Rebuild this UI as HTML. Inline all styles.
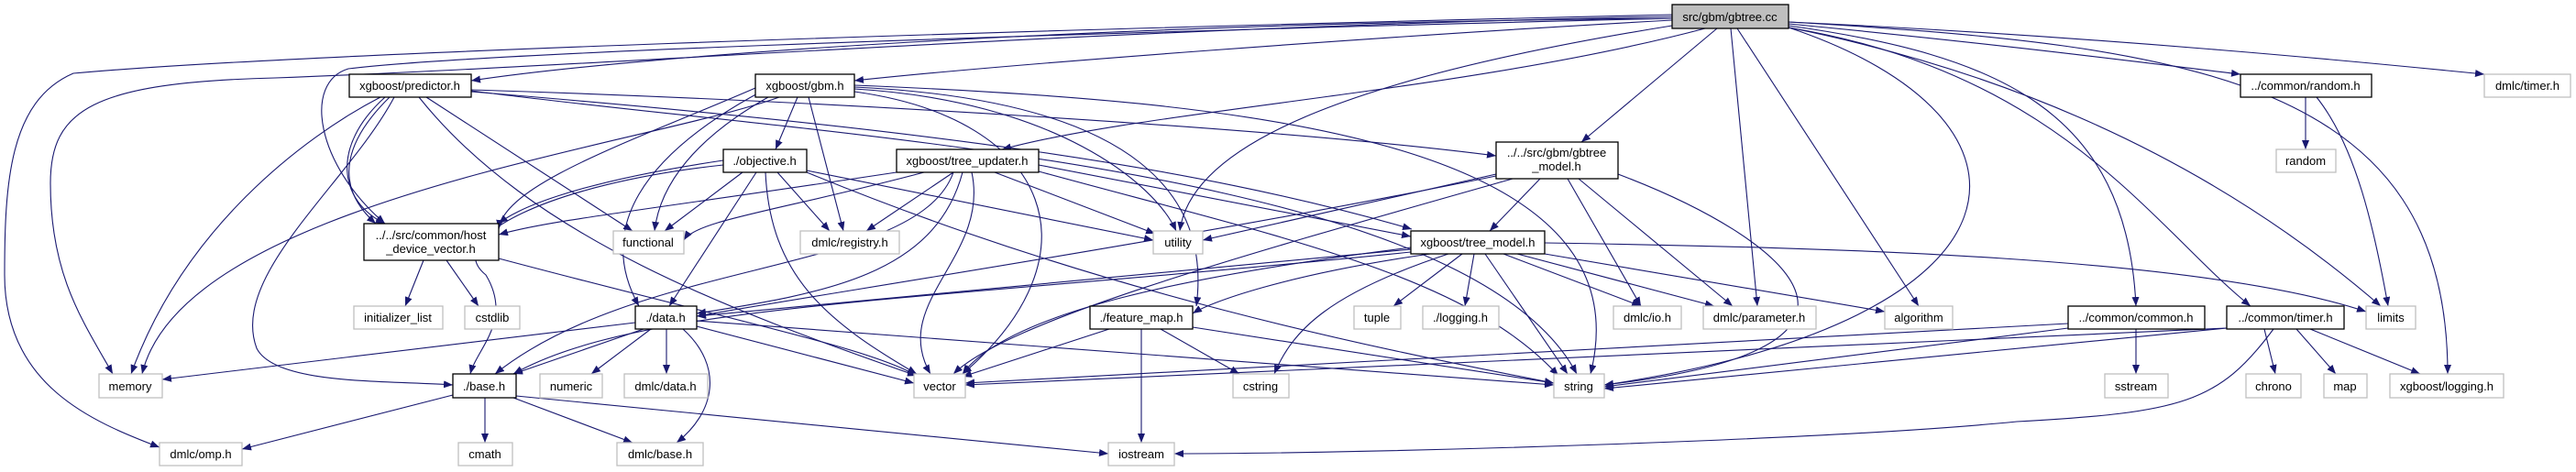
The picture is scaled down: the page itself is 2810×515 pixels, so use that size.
<!DOCTYPE html>
<html><head><meta charset="utf-8"><style>
html,body{margin:0;padding:0;background:#fff;}
svg{display:block;}
.e{fill:none;stroke:#191970;stroke-width:1.1;marker-end:url(#a);}
.n{fill:#fff;stroke:#000;stroke-width:1.3;}
.g{fill:#fff;stroke:#bfbfbf;stroke-width:1.3;}
text{font-family:"Liberation Sans",sans-serif;font-size:13px;fill:#000;text-anchor:middle;}
</style></head><body>
<svg width="2810" height="515" viewBox="0 0 2810 515" xmlns="http://www.w3.org/2000/svg">
<defs><marker id="a" markerWidth="10" markerHeight="8" refX="10" refY="4" orient="auto" markerUnits="userSpaceOnUse"><path d="M0,0 L10,4 L0,8z" fill="#191970"/></marker></defs>
<g>
<!-- gbtree.cc edges -->
<path class="e" d="M1824,20 C1200,25 700,60 514,88"/>
<path class="e" d="M1824,22 C1500,40 1100,70 932,88"/>
<path class="e" d="M1860,31 C1600,100 1250,120 1093,163"/>
<path class="e" d="M1873,31 L1725,155"/>
<path class="e" d="M1888,31 L1917,334"/>
<path class="e" d="M1895,31 L2093,334"/>
<path class="e" d="M1951,26 C2200,50 2350,70 2444,81"/>
<path class="e" d="M1951,24 C2300,40 2600,70 2710,81"/>
<path class="e" d="M1951,28 C2180,60 2320,120 2330,334"/>
<path class="e" d="M1951,30 C2250,80 2350,250 2455,334"/>
<path class="e" d="M1951,30 C2300,100 2500,250 2597,334"/>
<path class="e" d="M1951,24 C2400,50 2670,90 2670,408"/>
<path class="e" d="M1951,30 C2250,130 2230,350 1750,420"/>
<path class="e" d="M1824,28 C1500,80 1300,150 1287,252"/>
<path class="e" d="M1824,18 C1200,30 700,70 300,85 C100,90 55,120 55,200 C55,300 90,350 123,408"/>
<path class="e" d="M1824,16 C1000,35 300,60 80,80 C10,110 5,200 5,300 C5,420 100,460 174,488"/>
<path class="e" d="M1824,20 C1000,40 500,60 380,75 C330,90 345,180 420,244"/>
<!-- predictor -->
<path class="e" d="M415,106 C330,150 200,250 143,408"/>
<path class="e" d="M425,106 C380,150 360,200 410,244"/>
<path class="e" d="M420,106 C360,160 370,220 420,244"/>
<path class="e" d="M465,106 L690,252"/>
<path class="e" d="M457,106 C580,260 800,340 1000,410"/>
<path class="e" d="M430,106 C380,200 250,300 280,380 C300,420 420,415 494,420"/>
<path class="e" d="M514,98 C900,110 1400,140 1632,170"/>
<path class="e" d="M514,100 C1000,140 1300,180 1540,250"/>
<path class="e" d="M514,99 C900,150 1600,180 1720,408"/>
<!-- gbm -->
<path class="e" d="M870,106 L846,163"/>
<path class="e" d="M882,106 L920,252"/>
<path class="e" d="M838,106 C760,150 720,200 714,252"/>
<path class="e" d="M850,106 C700,160 200,220 155,408"/>
<path class="e" d="M824,96 C700,150 550,200 544,250"/>
<path class="e" d="M830,100 C700,170 650,250 697,334"/>
<path class="e" d="M932,97 C1150,110 1260,200 1283,252"/>
<path class="e" d="M932,95 C1250,110 1320,220 1305,334"/>
<path class="e" d="M932,100 C1150,130 1200,280 1050,408"/>
<path class="e" d="M932,93 C1350,110 1800,150 1735,408"/>
<!-- objective -->
<path class="e" d="M810,188 L725,252"/>
<path class="e" d="M848,188 L905,252"/>
<path class="e" d="M880,186 L1258,262"/>
<path class="e" d="M825,188 L730,334"/>
<path class="e" d="M835,188 C840,300 900,350 1000,408"/>
<path class="e" d="M789,180 C600,200 480,260 530,300 C560,350 520,380 513,408"/>
<path class="e" d="M789,175 C620,200 560,230 544,244"/>
<path class="e" d="M880,188 C1200,320 1500,380 1695,418"/>
<!-- tree_updater -->
<path class="e" d="M1008,188 C850,230 760,240 746,262"/>
<path class="e" d="M1040,188 L945,252"/>
<path class="e" d="M1085,188 L1260,255"/>
<path class="e" d="M1133,180 L1539,258"/>
<path class="e" d="M1050,188 C1020,300 900,320 760,342"/>
<path class="e" d="M1060,188 C1080,280 970,330 1015,408"/>
<path class="e" d="M1133,187 C1400,260 1600,300 1700,410"/>
<path class="e" d="M978,188 C700,230 600,240 544,256"/>
<path class="e" d="M1040,188 C1000,300 700,280 540,408"/>
<!-- gbtree_model -->
<path class="e" d="M1680,195 L1625,252"/>
<path class="e" d="M1632,190 L1312,262"/>
<path class="e" d="M1710,195 L1790,334"/>
<path class="e" d="M1722,195 L1890,334"/>
<path class="e" d="M1765,190 C1950,260 2100,380 1750,420"/>
<path class="e" d="M1650,195 C1350,280 1100,350 1040,408"/>
<path class="e" d="M1632,192 C1300,260 900,320 760,345"/>
<!-- tree_model -->
<path class="e" d="M1595,277 L1520,334"/>
<path class="e" d="M1608,277 L1598,334"/>
<path class="e" d="M1640,277 L1790,334"/>
<path class="e" d="M1655,277 L1870,334"/>
<path class="e" d="M1685,277 L2056,340"/>
<path class="e" d="M1685,265 C2000,270 2400,280 2581,340"/>
<path class="e" d="M1620,277 L1710,408"/>
<path class="e" d="M1580,277 C1450,320 1410,360 1390,408"/>
<path class="e" d="M1539,270 C1300,300 1100,340 1050,408"/>
<path class="e" d="M1539,272 L760,345"/>
<path class="e" d="M1539,275 C1000,330 700,330 560,408"/>
<path class="e" d="M1560,277 C1400,300 1320,330 1301,342"/>
<!-- hdv -->
<path class="e" d="M462,284 L442,334"/>
<path class="e" d="M487,284 L522,334"/>
<path class="e" d="M544,282 C800,350 950,380 1000,410"/>
<!-- data.h -->
<path class="e" d="M693,352 L177,414"/>
<path class="e" d="M702,359 L560,408"/>
<path class="e" d="M710,359 L645,408"/>
<path class="e" d="M727,359 L727,408"/>
<path class="e" d="M745,359 C790,400 780,450 738,483"/>
<path class="e" d="M760,356 L997,418"/>
<path class="e" d="M760,350 L1695,420"/>
<!-- base.h -->
<path class="e" d="M494,431 L264,490"/>
<path class="e" d="M529,434 L529,483"/>
<path class="e" d="M560,434 L690,483"/>
<path class="e" d="M563,432 L1209,495"/>
<!-- feature_map -->
<path class="e" d="M1210,359 L1050,411"/>
<path class="e" d="M1245,359 L1245,483"/>
<path class="e" d="M1266,359 L1352,408"/>
<path class="e" d="M1301,357 L1695,418"/>
<!-- common.h -->
<path class="e" d="M2256,353 L1053,418"/>
<path class="e" d="M2256,358 L1750,422"/>
<path class="e" d="M2330,359 L2330,408"/>
<!-- timer.h -->
<path class="e" d="M2470,359 L2482,408"/>
<path class="e" d="M2505,359 L2548,408"/>
<path class="e" d="M2520,359 L2640,408"/>
<path class="e" d="M2429,358 L1750,424"/>
<path class="e" d="M2429,358 L1053,420"/>
<path class="e" d="M2480,359 C2420,440 2380,450 2200,460 C2000,480 1500,495 1281,495"/>
<!-- random.h -->
<path class="e" d="M2515,106 L2515,163"/>
<path class="e" d="M2527,106 C2570,160 2590,250 2605,334"/>
</g>
<g>
<rect x="1824" y="5" width="127" height="26" fill="#bfbfbf" stroke="#000" stroke-width="1.3"/><text x="1887" y="23">src/gbm/gbtree.cc</text>
<rect class="n" x="381" y="81" width="133" height="25"/><text x="447" y="98">xgboost/predictor.h</text>
<rect class="n" x="824" y="81" width="108" height="25"/><text x="878" y="98">xgboost/gbm.h</text>
<rect class="n" x="2444" y="81" width="143" height="25"/><text x="2515" y="98">../common/random.h</text>
<rect class="g" x="2710" y="81" width="94" height="25"/><text x="2757" y="98">dmlc/timer.h</text>
<rect class="n" x="789" y="163" width="91" height="25"/><text x="834" y="180">./objective.h</text>
<rect class="n" x="978" y="163" width="155" height="25"/><text x="1055" y="180">xgboost/tree_updater.h</text>
<rect class="g" x="2483" y="163" width="65" height="25"/><text x="2515" y="180">random</text>
<rect class="n" x="1632" y="155" width="133" height="40"/><text x="1698" y="171">../../src/gbm/gbtree</text><text x="1698" y="186">_model.h</text>
<rect class="n" x="397" y="244" width="147" height="40"/><text x="470" y="261">../../src/common/host</text><text x="470" y="276">_device_vector.h</text>
<rect class="g" x="669" y="252" width="77" height="25"/><text x="707" y="269">functional</text>
<rect class="g" x="873" y="252" width="108" height="25"/><text x="927" y="269">dmlc/registry.h</text>
<rect class="g" x="1258" y="252" width="54" height="25"/><text x="1285" y="269">utility</text>
<rect class="n" x="1539" y="252" width="146" height="25"/><text x="1612" y="269">xgboost/tree_model.h</text>
<rect class="g" x="386" y="334" width="97" height="25"/><text x="434" y="351">initializer_list</text>
<rect class="g" x="507" y="334" width="60" height="25"/><text x="537" y="351">cstdlib</text>
<rect class="n" x="693" y="334" width="67" height="25"/><text x="726" y="351">./data.h</text>
<rect class="n" x="1189" y="334" width="112" height="25"/><text x="1245" y="351">./feature_map.h</text>
<rect class="g" x="1477" y="334" width="51" height="25"/><text x="1502" y="351">tuple</text>
<rect class="g" x="1552" y="334" width="83" height="25"/><text x="1593" y="351">./logging.h</text>
<rect class="g" x="1760" y="334" width="74" height="25"/><text x="1797" y="351">dmlc/io.h</text>
<rect class="g" x="1858" y="334" width="123" height="25"/><text x="1919" y="351">dmlc/parameter.h</text>
<rect class="g" x="2056" y="334" width="74" height="25"/><text x="2093" y="351">algorithm</text>
<rect class="n" x="2256" y="334" width="149" height="25"/><text x="2330" y="351">../common/common.h</text>
<rect class="n" x="2429" y="334" width="128" height="25"/><text x="2493" y="351">../common/timer.h</text>
<rect class="g" x="2581" y="334" width="54" height="25"/><text x="2608" y="351">limits</text>
<rect class="g" x="108" y="408" width="69" height="26"/><text x="142" y="426">memory</text>
<rect class="n" x="494" y="408" width="69" height="26"/><text x="528" y="426">./base.h</text>
<rect class="g" x="589" y="408" width="68" height="26"/><text x="623" y="426">numeric</text>
<rect class="g" x="681" y="408" width="91" height="26"/><text x="726" y="426">dmlc/data.h</text>
<rect class="g" x="997" y="408" width="56" height="26"/><text x="1025" y="426">vector</text>
<rect class="g" x="1345" y="408" width="61" height="26"/><text x="1375" y="426">cstring</text>
<rect class="g" x="1695" y="408" width="55" height="26"/><text x="1722" y="426">string</text>
<rect class="g" x="2296" y="408" width="69" height="26"/><text x="2330" y="426">sstream</text>
<rect class="g" x="2450" y="408" width="60" height="26"/><text x="2480" y="426">chrono</text>
<rect class="g" x="2535" y="408" width="47" height="26"/><text x="2558" y="426">map</text>
<rect class="g" x="2607" y="408" width="124" height="26"/><text x="2669" y="426">xgboost/logging.h</text>
<rect class="g" x="174" y="483" width="90" height="25"/><text x="219" y="500">dmlc/omp.h</text>
<rect class="g" x="500" y="483" width="59" height="25"/><text x="529" y="500">cmath</text>
<rect class="g" x="673" y="483" width="94" height="25"/><text x="720" y="500">dmlc/base.h</text>
<rect class="g" x="1209" y="483" width="72" height="25"/><text x="1245" y="500">iostream</text>
</g>
</svg>
</body></html>
